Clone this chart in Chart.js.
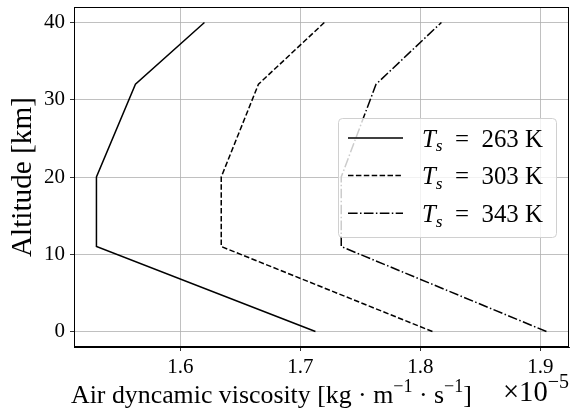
<!DOCTYPE html>
<html>
<head>
<meta charset="utf-8">
<script src="https://cdn.jsdelivr.net/npm/chart.js@4.4.1/dist/chart.umd.min.js"></script>
<style>
  html, body { margin: 0; padding: 0; background: #fff; }
  #wrap { width: 570px; height: 416px; }
</style>
</head>
<body>
<div id="wrap"><canvas id="viscosity"></canvas></div>
<script>
// altitude levels [km] and viscosity values (x 1e-5 kg/m/s)
const altitude = [0, 11, 20, 32, 40];
const mu263 = [1.7125, 1.530, 1.530, 1.5625, 1.620];
const mu303 = [1.810, 1.634, 1.634, 1.665, 1.720];
const mu343 = [1.905, 1.734, 1.734, 1.763, 1.8175];
const surfaceTemps = ['263', '303', '343'];
const xTicks = [1.6, 1.7, 1.8, 1.9];
const yTicks = [0, 10, 20, 30, 40];

const SERIF = '"Liberation Serif", "DejaVu Serif", serif';
const dashes = [[], [5.5, 2.4], [9.6, 2.4, 1.5, 2.4]];

function toPoints(values) {
  return values.map((v, i) => ({ x: v, y: altitude[i] }));
}

const datasets = [mu263, mu303, mu343].map((vals, i) => ({
  label: 'Ts = ' + surfaceTemps[i] + ' K',
  data: toPoints(vals),
  borderColor: '#000',
  borderWidth: 1.5,
  borderDash: dashes[i],
  pointRadius: 0,
  tension: 0,
  fill: false
}));

function drawRuns(ctx, runs, x, y) {
  runs.forEach(r => {
    ctx.font = r.font;
    ctx.fillText(r.text, x, y + (r.dy || 0));
    x += ctx.measureText(r.text).width;
  });
  return x;
}

function runsWidth(ctx, runs) {
  let w = 0;
  runs.forEach(r => { ctx.font = r.font; w += ctx.measureText(r.text).width; });
  return w;
}

// pick a font size so the text spans roughly the width seen in the reference
function fitRuns(ctx, build, width) {
  const w = runsWidth(ctx, build(20));
  return build(20 * width / w);
}

const font = (s, it) => (it ? 'italic ' : '') + s.toFixed(2) + 'px ' + SERIF;

const decorations = {
  id: 'decorations',
  afterDatasetsDraw(chart) {
    const { ctx, chartArea: a } = chart;
    ctx.save();
    ctx.strokeStyle = '#000';
    ctx.lineWidth = 1;
    ctx.strokeRect(Math.round(a.left) + 0.5, Math.round(a.top) + 0.5,
      Math.round(a.right - a.left) - 1, Math.round(a.bottom - a.top) - 1);
    ctx.restore();
  },
  afterDraw(chart) {
    const { ctx } = chart;
    ctx.save();
    ctx.fillStyle = '#000';
    ctx.textBaseline = 'alphabetic';
    ctx.textAlign = 'left';

    // x axis title
    const xt = fitRuns(ctx, s => [
      { text: 'Air dyncamic viscosity [kg · m', font: font(s) },
      { text: '−1', font: font(s * 0.7), dy: -s * 0.42 },
      { text: ' · s', font: font(s) },
      { text: '−1', font: font(s * 0.7), dy: -s * 0.42 },
      { text: ']', font: font(s) }
    ], 401);
    drawRuns(ctx, xt, 71, 403);

    // offset text
    const off = fitRuns(ctx, s => [
      { text: '×10', font: font(s) },
      { text: '−5', font: font(s * 0.7), dy: -s * 0.45 }
    ], 66);
    drawRuns(ctx, off, 503, 401);

    // y axis title
    const yt = fitRuns(ctx, s => [{ text: 'Altitude [km]', font: font(s) }], 160);
    ctx.save();
    ctx.translate(31, 257);
    ctx.rotate(-Math.PI / 2);
    drawRuns(ctx, yt, 0, 0);
    ctx.restore();

    // legend
    const bx = 338, by = 118, bw = 218, bh = 119;
    ctx.beginPath();
    ctx.roundRect(bx + 0.5, by + 0.5, bw, bh, 4);
    ctx.fillStyle = 'rgba(255,255,255,0.8)';
    ctx.fill();
    ctx.strokeStyle = '#d0d0d0';
    ctx.lineWidth = 1;
    ctx.stroke();

    chart.data.datasets.forEach((ds, i) => {
      const ly = 138 + i * 37.6;
      ctx.save();
      ctx.strokeStyle = ds.borderColor;
      ctx.lineWidth = ds.borderWidth;
      ctx.setLineDash(ds.borderDash);
      ctx.beginPath();
      ctx.moveTo(348, ly);
      ctx.lineTo(403, ly);
      ctx.stroke();
      ctx.restore();
      ctx.fillStyle = '#000';
      const lt = fitRuns(ctx, s => [
        { text: 'T', font: font(s, true) },
        { text: 's', font: font(s * 0.7, true), dy: s * 0.2 },
        { text: '  =  ' + surfaceTemps[i] + ' K', font: font(s) }
      ], 121);
      drawRuns(ctx, lt, 422, ly + 8.5);
    });
    ctx.restore();
  }
};

new Chart(document.getElementById('viscosity'), {
  type: 'line',
  data: { datasets: datasets },
  options: {
    responsive: true,
    maintainAspectRatio: false,
    animation: false,
    layout: { padding: { top: 7, right: 1, left: 0, bottom: 0 } },
    plugins: {
      legend: { display: false },
      tooltip: { enabled: false }
    },
    scales: {
      x: {
        type: 'linear',
        min: 1.5113,
        max: 1.9238,
        afterBuildTicks: s => { s.ticks = xTicks.map(v => ({ value: v })); },
        afterFit: s => { s.height = 69; s.paddingLeft = 0; s.paddingRight = 0; },
        ticks: {
          color: '#000',
          padding: 4,
          font: { family: SERIF, size: 21 },
          callback: v => v.toFixed(1)
        },
        grid: { color: '#b0b0b0', lineWidth: 0.8, tickColor: '#000', tickLength: 4 },
        border: { color: '#000', width: 1 }
      },
      y: {
        type: 'linear',
        min: -2,
        max: 42,
        afterBuildTicks: s => { s.ticks = yTicks.map(v => ({ value: v })); },
        afterFit: s => { s.width = 74; s.paddingTop = 0; s.paddingBottom = 0; },
        ticks: {
          color: '#000',
          padding: 5,
          font: { family: SERIF, size: 21 },
          callback: v => String(v)
        },
        grid: { color: '#b0b0b0', lineWidth: 0.8, tickColor: '#000', tickLength: 4 },
        border: { color: '#000', width: 1 }
      }
    }
  },
  plugins: [decorations]
});
</script>
</body>
</html>
